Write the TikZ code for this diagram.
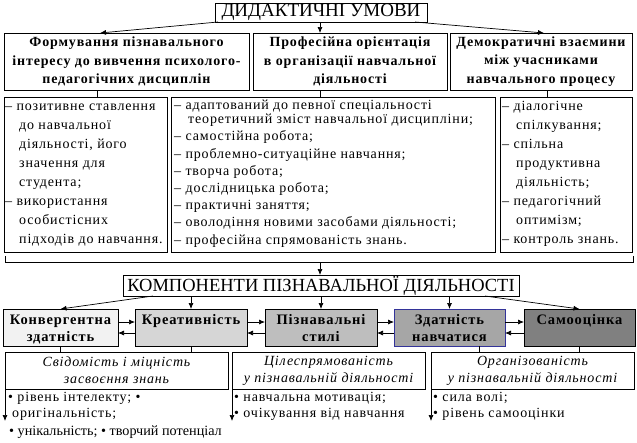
\documentclass[tikz,border=0pt]{standalone}
\usepackage{fontspec}
\setmainfont{Liberation Serif}
\newfontfamily\lsfont{Liberation Serif}[LetterSpace=6]
\usetikzlibrary{arrows.meta,calc}
\definecolor{cA}{HTML}{F2F2F2}
\definecolor{cB}{HTML}{D6D6D6}
\definecolor{cC}{HTML}{BEBEBE}
\definecolor{cD}{HTML}{A6A6A6}
\definecolor{cE}{HTML}{808080}
\definecolor{cBlue}{HTML}{333399}
\newcommand\hind{\hspace*{14pt}}
\newcommand\mlines[3][\raggedright]{\begin{minipage}[t]{#2}#1#3\end{minipage}}
\begin{document}
\begin{tikzpicture}[x=1pt,y=-1pt,
  box/.style={draw,line width=0.8pt,inner sep=0pt,outer sep=0pt,anchor=north west},
  head/.style={font=\lsfont\bfseries\fontsize{14}{18.5}\selectfont,align=center},
  big/.style={font=\fontsize{19}{21}\selectfont},
  lst/.style={font=\lsfont\fontsize{14}{19}\selectfont,anchor=base west,inner sep=0pt},
  ctext/.style={font=\lsfont\bfseries\fontsize{14.5}{17}\selectfont,anchor=base,inner sep=0pt},
  ital/.style={font=\lsfont\itshape\fontsize{14}{17}\selectfont,align=center},
  arr/.style={-{Latex[length=6pt,width=5pt]},line width=0.7pt},
  ln/.style={line width=0.8pt},
]
\useasboundingbox[fill=white] (0,0) rectangle (637,442);

% top
\node[box,big,minimum width=212pt,minimum height=19pt] (title) at (215,3) {ДИДАКТИЧНІ УМОВИ};
\node[box,head,minimum width=245pt,minimum height=57pt] (b1) at (4,33) {Формування пізнавального\\інтересу до вивчення психолого-\\педагогічних дисциплін};
\node[box,head,minimum width=194pt,minimum height=57pt] (b2) at (253,33) {Професійна орієнтація\\в організації навчальної\\діяльності};
\node[box,head,minimum width=182pt,minimum height=57pt] (b3) at (450,33) {Демократичні взаємини\\між учасниками\\навчального процесу};

\draw[arr] ([xshift=3pt]title.south west) -- ($(b1.north west)+(96,0)$);
\draw[arr] ($(title.south west)+(105,0)$) -- ($(b2.north west)+(67,0)$);
\draw[arr] ([xshift=-12pt]title.south east) -- ($(b3.north west)+(94,0)$);

\node[box,minimum width=163pt,minimum height=155pt] (b4) at (4,97) {};
\node[box,minimum width=324pt,minimum height=155pt] (b5) at (171,97) {};
\node[box,minimum width=132pt,minimum height=155pt] (b6) at (500,97) {};

\draw[ln] ($(b1.south west)+(93,0)$) -- ($(b4.north west)+(93,0)$);
\draw[ln] ($(b2.south west)+(67,0)$) -- ($(b5.north west)+(149,0)$);
\draw[ln] ($(b3.south west)+(97,0)$) -- ($(b6.north west)+(47,0)$);

\node[lst] (t4) at (5,110) {\mlines{160pt}{– позитивне ставлення\\\hind до навчальної\\\hind діяльності, його\\\hind значення для\\\hind студента;\\– використання\\\hind особистісних\\\hind підходів до навчання.}};
\node[lst,font=\lsfont\fontsize{14}{17.2}\selectfont] (t5) at (174,109) {\mlines{320pt}{– адаптований до певної спеціальності\\[-2.5pt]\hind теоретичний зміст навчальної дисципліни;\\– самостійна робота;\\– проблемно-ситуаційне навчання;\\– творча робота;\\– дослідницька робота;\\– практичні заняття;\\– оволодіння новими засобами діяльності;\\– професійна спрямованість знань.}};
\node[lst] (t6) at (502,110) {\mlines{130pt}{– діалогічне\\\hind спілкування;\\– спільна\\\hind продуктивна\\\hind діяльність;\\– педагогічний\\\hind оптимізм;\\– контроль знань.}};

% bracket
\coordinate (brL) at (5,256);
\coordinate (brR) at (633,256);
\coordinate (brC) at (320,262);
\draw[ln] (brL) |- (brR |- brC) -- (brR);

\node[box,font=\fontsize{18.5}{20}\selectfont,minimum width=396pt,minimum height=21pt] (komp) at (123,275) {КОМПОНЕНТИ ПІЗНАВАЛЬНОЇ ДІЯЛЬНОСТІ};
\draw[arr] (brC) -- (brC |- komp.north);

% components
\node[box,fill=cA,minimum width=115pt,minimum height=37pt] (c1) at (3,309) {};
\node[box,fill=cB,minimum width=112pt,minimum height=37pt] (c2) at (135,309) {};
\node[box,fill=cC,minimum width=112pt,minimum height=37pt] (c3) at (265,309) {};
\node[box,fill=cD,draw=cBlue,minimum width=111pt,minimum height=37pt] (c4) at (394,309) {};
\node[box,fill=cE,minimum width=111pt,minimum height=37pt] (c5) at (524,309) {};

\node[ctext] (c1t) at (c1.north |- 0,324) {\mlines[\centering]{114pt}{Конвергентна\\здатність}};
\node[ctext] (c2t) at (c2.north |- 0,324) {\mlines[\centering]{110pt}{Креативність}};
\node[ctext] (c3t) at (c3.north |- 0,324) {\mlines[\centering]{110pt}{Пізнавальні\\стилі}};
\node[ctext] (c4t) at (c4.north |- 0,324) {\mlines[\centering]{110pt}{Здатність\\навчатися}};
\node[ctext] (c5t) at (c5.north |- 0,324) {\mlines[\centering]{110pt}{Самооцінка}};

\draw[arr] ($(komp.south west)+(30,0)$) -- (c1.north);
\draw[arr] (c2.north |- komp.south) -- (c2.north);
\draw[arr] (c3.north |- komp.south) -- (c3.north);
\draw[arr] (c4.north |- komp.south) -- (c4.north);
\draw[arr] ($(komp.south east)+(-34,0)$) -- (c5.north);

\foreach \l/\r in {c1/c2,c2/c3,c3/c4,c4/c5}{
  \draw[arr] ($(\l.east)+(0,-5.5)$) -- ($(\r.west)+(0,-5.5)$);
  \draw[arr] ($(\r.west)+(0,5.5)$) -- ($(\l.east)+(0,5.5)$);
}

% bottom boxes
\node[box,ital,minimum width=223pt,minimum height=37pt] (A) at (5,352) {Свідомість і міцність\\засвоєння знань};
\node[box,ital,minimum width=193pt,minimum height=37pt] (B) at (232,352) {Цілеспрямованість\\у пізнавальній діяльності};
\node[box,ital,minimum width=203pt,minimum height=37pt] (C) at (431,352) {Організованість\\у пізнавальній діяльності};

\draw[ln] (c1.south) -- (c1.south |- A.north);
\draw[ln] (c2.south) -- (c2.south |- A.north);
\draw[ln] ($(c4.south west)+(85,0)$) -- ($(c4.south west)+(85,6)$);
\draw[ln] (c5.south) -- (c5.south |- C.north);

\draw[arr] (A.south west) -- ($(A.south west)+(0,32)$);
\draw[arr] (B.south west) -- ($(B.south west)+(0,32)$);
\draw[arr] (C.south west) -- ($(C.south west)+(0,32)$);

\node[lst] (la1) at (8,401) {• рівень інтелекту; •};
\node[lst] (la2) at (12,417) {оригінальність;};
\node[lst,font=\fontsize{14.2}{15}\selectfont] (la3) at (9,435) {• унікальність; • творчий потенціал};
\node[lst] (lb1) at (234,401) {• навчальна мотивація;};
\node[lst] (lb2) at (234,417) {• очікування від навчання};
\node[lst] (lc1) at (433,401) {• сила волі;};
\node[lst] (lc2) at (433,417) {• рівень самооцінки};
\end{tikzpicture}
\end{document}
